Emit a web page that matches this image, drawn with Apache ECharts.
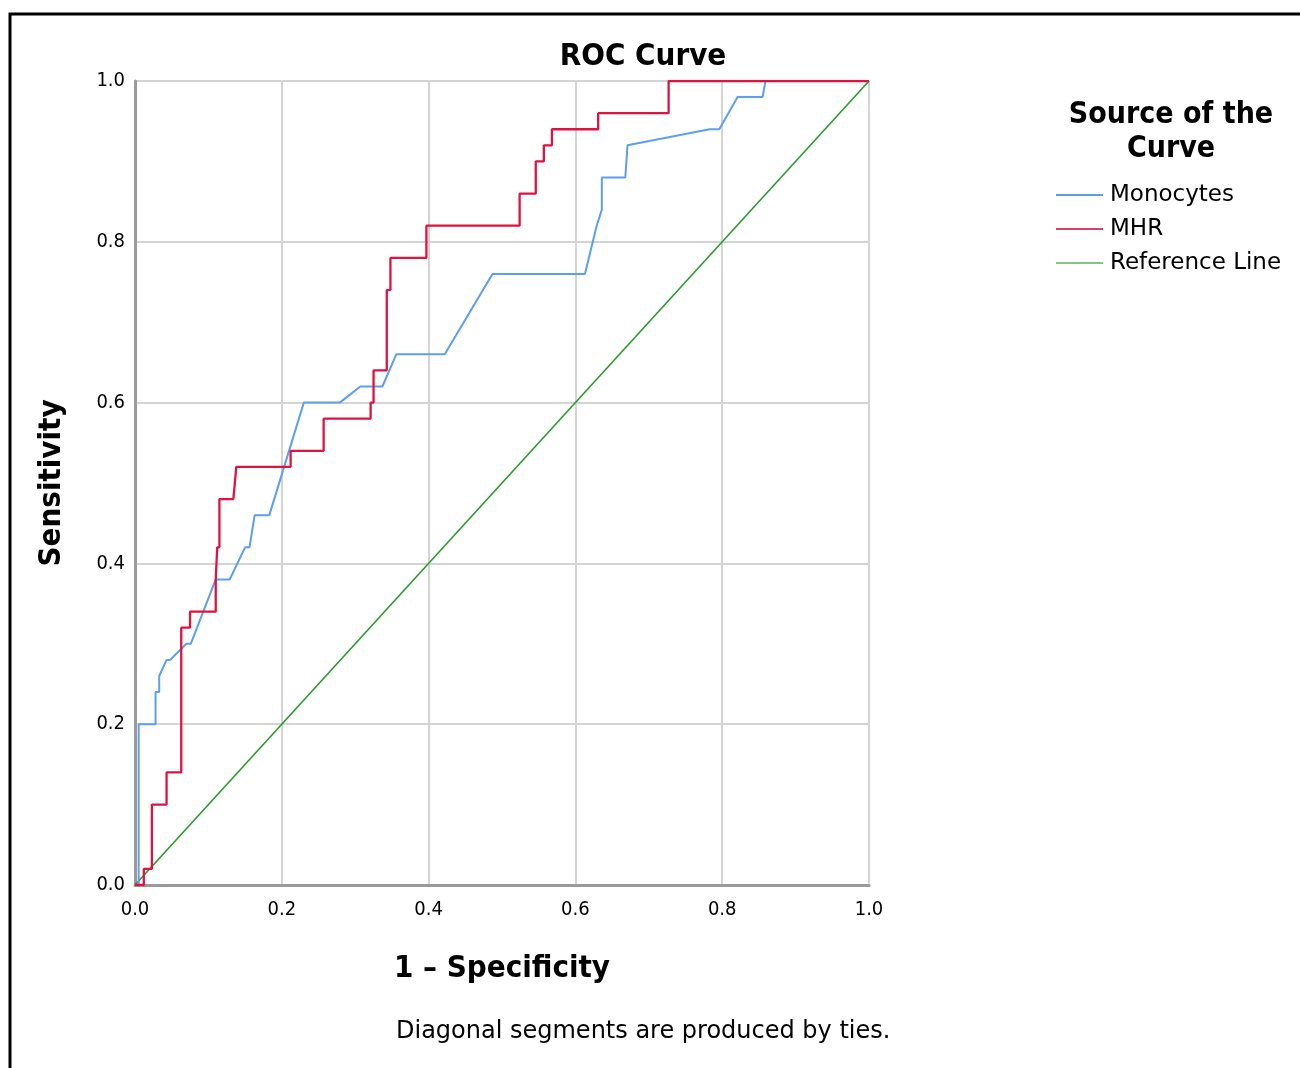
<!DOCTYPE html>
<html>
<head>
<meta charset="utf-8">
<title>ROC Curve</title>
<script src="https://cdn.jsdelivr.net/npm/echarts@6/dist/echarts.min.js"></script>
<style>
  html, body { margin: 0; padding: 0; background: #fff; }
  #chart { width: 1300px; height: 1068px; }
</style>
</head>
<body>
<div id="chart"></div>
<script>
// points: [1 - specificity, sensitivity]
const monocytes = [
  [0, 0], [0.005, 0], [0.005, 0.20], [0.028, 0.20], [0.028, 0.24], [0.033, 0.24],
  [0.033, 0.26], [0.043, 0.28], [0.048, 0.28], [0.070, 0.30], [0.076, 0.30],
  [0.110, 0.38], [0.129, 0.38], [0.150, 0.42], [0.156, 0.42], [0.163, 0.46],
  [0.183, 0.46], [0.230, 0.60], [0.279, 0.60], [0.307, 0.62], [0.337, 0.62],
  [0.356, 0.66], [0.422, 0.66], [0.487, 0.76], [0.613, 0.76], [0.629, 0.82],
  [0.636, 0.84], [0.636, 0.88], [0.668, 0.88], [0.671, 0.92], [0.783, 0.94],
  [0.796, 0.94], [0.821, 0.98], [0.855, 0.98], [0.859, 1.0], [1, 1]
]
const mhr = [
  [0, 0], [0.012, 0], [0.012, 0.02], [0.023, 0.02], [0.023, 0.10], [0.043, 0.10],
  [0.043, 0.14], [0.063, 0.14], [0.063, 0.32], [0.075, 0.32], [0.075, 0.34],
  [0.110, 0.34], [0.110, 0.38], [0.112, 0.38], [0.112, 0.42], [0.115, 0.42],
  [0.115, 0.48], [0.134, 0.48], [0.138, 0.52], [0.212, 0.52], [0.212, 0.54],
  [0.257, 0.54], [0.257, 0.58], [0.321, 0.58], [0.321, 0.60], [0.325, 0.60],
  [0.325, 0.64], [0.343, 0.64], [0.343, 0.74], [0.348, 0.74], [0.348, 0.78],
  [0.397, 0.78], [0.397, 0.82], [0.524, 0.82], [0.524, 0.86], [0.546, 0.86],
  [0.546, 0.90], [0.557, 0.90], [0.557, 0.92], [0.568, 0.92], [0.568, 0.94],
  [0.631, 0.94], [0.631, 0.96], [0.727, 0.96], [0.727, 1.0], [1, 1]
]
const referenceLine = [[0, 0], [1, 1]]
const seriesNames = ['Monocytes', 'MHR', 'Reference Line']

const chart = echarts.init(document.getElementById('chart'))

const regular = 'DejaVu Sans'
const condensed = 'DejaVu Sans Condensed'

const option = {
  backgroundColor: '#fff',
  animation: false,
  title: [
    {
      text: 'ROC Curve',
      left: 638,
      top: 36,
      textAlign: 'center',
      textStyle: { fontFamily: condensed, fontWeight: 'bold', fontSize: 31, color: '#000' }
    },
    {
      text: 'Source of the\nCurve',
      left: 1166,
      top: 93,
      textAlign: 'center',
      textStyle: { fontFamily: condensed, fontWeight: 'bold', fontSize: 30, lineHeight: 34, color: '#000' }
    }
  ],
  legend: {
    orient: 'vertical',
    left: 1051,
    top: 178,
    icon: 'rect',
    itemWidth: 47,
    itemHeight: 2,
    itemGap: 10,
    textStyle: { fontFamily: regular, fontSize: 23, lineHeight: 24, color: '#000', padding: [0, 0, 0, 2] },
    data: [
      { name: seriesNames[0], itemStyle: { color: '#5b9de8' } },
      { name: seriesNames[1], itemStyle: { color: '#dc4068' } },
      { name: seriesNames[2], itemStyle: { color: '#86c486' } }
    ]
  },
  grid: { left: 135, right: 431, top: 81, bottom: 183 },
  xAxis: {
    type: 'value',
    min: 0,
    max: 1,
    interval: 0.2,
    name: '1 – Specificity',
    nameLocation: 'middle',
    nameGap: 68,
    nameTextStyle: { fontFamily: condensed, fontWeight: 'bold', fontSize: 31, color: '#000' },
    axisLine: { show: true, lineStyle: { color: '#9a9a9a', width: 3 } },
    axisTick: { show: false },
    axisLabel: { margin: 15, fontFamily: condensed, fontSize: 20, color: '#000', formatter: v => v.toFixed(1) },
    splitLine: { show: true, lineStyle: { color: '#d4d4d4', width: 2 } }
  },
  yAxis: {
    type: 'value',
    min: 0,
    max: 1,
    interval: 0.2,
    name: 'Sensitivity',
    nameLocation: 'middle',
    nameGap: 68,
    nameTextStyle: { fontFamily: condensed, fontWeight: 'bold', fontSize: 31, color: '#000' },
    axisLine: { show: true, lineStyle: { color: '#9a9a9a', width: 3 } },
    axisTick: { show: false },
    axisLabel: { margin: 10, padding: [4, 0, 0, 0], fontFamily: condensed, fontSize: 20, color: '#000', formatter: v => v.toFixed(1) },
    splitLine: { show: true, lineStyle: { color: '#d4d4d4', width: 2 } }
  },
  series: [
    {
      name: seriesNames[0],
      type: 'line',
      data: monocytes,
      showSymbol: false,
      z: 3,
      lineStyle: { color: '#5b9ff0', width: 2 },
      itemStyle: { color: '#5b9ff0' }
    },
    {
      name: seriesNames[1],
      type: 'line',
      data: mhr,
      showSymbol: false,
      z: 4,
      lineStyle: { color: '#e0123f', width: 2.3 },
      itemStyle: { color: '#e0123f' }
    },
    {
      name: seriesNames[2],
      type: 'line',
      data: referenceLine,
      showSymbol: false,
      z: 2,
      lineStyle: { color: '#2a9a2a', width: 1.6 },
      itemStyle: { color: '#2a9a2a' }
    }
  ],
  graphic: [
    {
      type: 'rect',
      left: 7.5,
      top: 11.5,
      silent: true,
      shape: { width: 1400, height: 1100 },
      style: { fill: 'none', stroke: '#000', lineWidth: 3 }
    },
    {
      type: 'text',
      left: 396,
      top: 1020,
      style: {
        text: 'Diagonal segments are produced by ties.',
        fontFamily: regular,
        fontSize: 24,
        fill: '#000'
      }
    }
  ]
}

chart.setOption(option)
window.addEventListener('resize', () => chart.resize())
</script>
</body>
</html>
